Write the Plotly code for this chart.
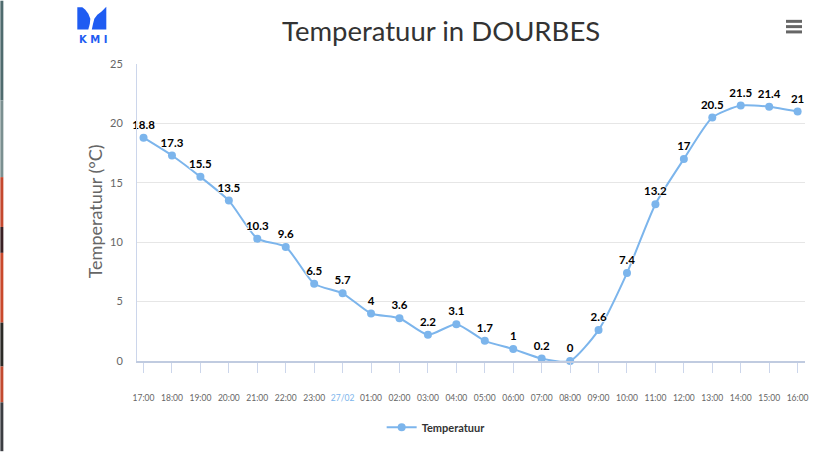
import plotly.graph_objects as go

hours = ["17:00", "18:00", "19:00", "20:00", "21:00", "22:00", "23:00", "27/02",
         "01:00", "02:00", "03:00", "04:00", "05:00", "06:00", "07:00", "08:00",
         "09:00", "10:00", "11:00", "12:00", "13:00", "14:00", "15:00", "16:00"]
temperature = [18.8, 17.3, 15.5, 13.5, 10.3, 9.6, 6.5, 5.7, 4, 3.6, 2.2, 3.1,
               1.7, 1, 0.2, 0, 2.6, 7.4, 13.2, 17, 20.5, 21.5, 21.4, 21]
y_ticks = [0, 5, 10, 15, 20, 25]

W, H = 835, 465
L, R, T, B = 136.7, 805.0, 63.5, 361.5
PW, PH = R - L, B - T

def px(x):
    return (x - L) / PW

def py(y):
    return (B - y) / PH

FONT = "Lato, 'Open Sans', sans-serif"
BLUE = "#7cb5ec"

xs = list(range(len(hours)))
ticktext = [f"<span style='color:{BLUE}'>{h}</span>" if "/" in h else h for h in hours]

fig = go.Figure()
fig.add_trace(go.Scatter(
    x=xs, y=temperature, mode="lines+markers+text", name="Temperatuur",
    line=dict(color=BLUE, width=2, shape="spline", smoothing=0.6),
    marker=dict(color=BLUE, size=8),
    text=[f"{v:g}" for v in temperature], textposition="top center",
    textfont=dict(family=FONT, size=11.5, color="#000000", weight="bold",
                  shadow="1px 0 1px white, -1px 0 1px white, 0 1px 1px white, 0 -1px 1px white"),
    cliponaxis=False,
))

shapes = []
# left stripe (background of page)
stripe = [(0, 100, "#4f6b6e"), (100, 177, "#7a8f90"), (177, 227, "#c4482e"),
          (227, 253, "#3a2024"), (253, 323, "#c9492c"), (323, 367, "#2c2a26"),
          (367, 403, "#c24a30"), (403, 452, "#3b3d42")]
for y0, y1, c in stripe:
    shapes.append(dict(type="rect", xref="paper", yref="paper",
                       x0=px(0), x1=px(3), y0=py(y1), y1=py(y0),
                       fillcolor=c, line=dict(width=0), layer="above"))
# hamburger menu
for yy in (20.7, 26.0, 31.3):
    shapes.append(dict(type="line", xref="paper", yref="paper",
                       x0=px(786), x1=px(802), y0=py(yy), y1=py(yy),
                       line=dict(color="#666666", width=3)))
# KMI logo icon
LOGO = "#1f5cf2"
def path(pts):
    return "M " + " L ".join(f"{px(a):.5f},{py(b):.5f}" for a, b in pts) + " Z"
left_part = [(77, 6.5), (82, 6.5), (85, 9), (88, 13), (90, 18), (89.5, 23), (88, 29), (77, 29)]
right_part = [(106, 6), (106, 29), (91.5, 29), (92.5, 24), (94, 18), (97, 14), (101, 11), (104, 8)]
for pts in (left_part, right_part):
    shapes.append(dict(type="path", xref="paper", yref="paper", path=path(pts),
                       fillcolor=LOGO, line=dict(width=0)))

annotations = [
    dict(text="Temperatuur in DOURBES", xref="paper", yref="paper",
         x=px(441), y=py(30), xanchor="center", yanchor="middle", showarrow=False,
         font=dict(family=FONT, size=27.5, color="#333333")),
    dict(text="Temperatuur (°C)", xref="paper", yref="paper", textangle=-90,
         x=px(95), y=py(211), xanchor="center", yanchor="middle", showarrow=False,
         font=dict(family=FONT, size=18, color="#666666")),
    dict(text="<b>K M I</b>", xref="paper", yref="paper",
         x=px(92.5), y=py(39), xanchor="center", yanchor="middle", showarrow=False,
         font=dict(family="'DejaVu Sans', sans-serif", size=10, color=LOGO)),
]

fig.update_layout(
    width=W, height=H, margin=dict(l=L, r=W - R, t=T, b=H - B),
    paper_bgcolor="white", plot_bgcolor="white",
    shapes=shapes, annotations=annotations,
    showlegend=True,
    legend=dict(orientation="h", x=px(436), y=py(428), xanchor="center", yanchor="middle",
                font=dict(family=FONT, size=11, color="#333333", weight="bold"),
                bgcolor="rgba(0,0,0,0)"),
    xaxis=dict(range=[-0.23, 23.26], tickvals=xs, ticktext=ticktext,
               showgrid=False, zeroline=False, showline=True, linecolor="#c0cbe0", linewidth=2,
               ticks="outside", ticklen=10, tickcolor="#ccd6eb", tickwidth=1,
               ticklabelstandoff=18, tickangle=0,
               tickfont=dict(family=FONT, size=8.5, color="#666666"), fixedrange=True),
    yaxis=dict(range=[0, 25], tickvals=y_ticks, showgrid=True, gridcolor="#e6e6e6",
               zeroline=False, showline=True, linecolor="#ccd6eb", linewidth=1,
               ticks="", ticklabelstandoff=11,
               tickfont=dict(family=FONT, size=11, color="#666666"), fixedrange=True),
)

fig.write_html("out.html")
